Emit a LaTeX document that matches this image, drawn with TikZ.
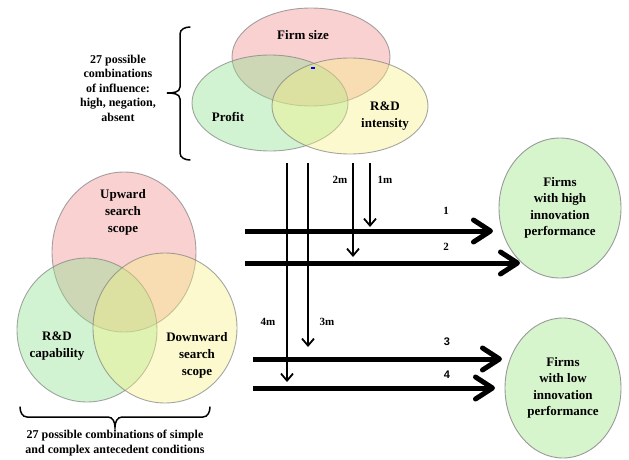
\documentclass[tikz,border=0pt]{standalone}
\usepackage{fontspec}
\setmainfont{Liberation Serif}
\newfontfamily\numfont{Liberation Sans}
\usepackage{tikz}
\usetikzlibrary{arrows.meta, positioning, shapes.geometric}

\definecolor{vpink}{RGB}{240,140,140}
\definecolor{vgreen}{RGB}{140,225,140}
\definecolor{vyellow}{RGB}{245,240,130}
\definecolor{goalgreen}{RGB}{215,245,205}

\begin{document}
\begin{tikzpicture}[
    x=1pt, y=-1pt,
    venn/.style={ellipse, draw=gray, line width=0.9pt, inner sep=0pt,
                 fill opacity=0.4, draw opacity=0.7},
    goal/.style={ellipse, draw=gray!80, line width=0.9pt, fill=goalgreen,
                 inner sep=0pt, align=center,
                 font=\bfseries\fontsize{13}{16.5}\selectfont},
    lbl/.style={font=\bfseries\fontsize{13}{17}\selectfont, align=center},
    note/.style={font=\bfseries\fontsize{12}{14.5}\selectfont, align=center},
    num/.style={font=\bfseries\fontsize{11}{13}\selectfont},
    flow/.style={-{Straight Barb[length=17pt,width=22pt,round]}, line width=5pt},
    mod/.style={-{Straight Barb[length=7pt,width=12pt]}, line width=1.8pt},
    brc/.style={line width=1.5pt, line cap=round}
]
\useasboundingbox (0,0) rectangle (629,460);

% upper Venn: firm-level influences
\node[venn, fill=vpink,   minimum width=158, minimum height=98] (size)   at (311,57)  {};
\node[venn, fill=vgreen,  minimum width=156, minimum height=96] (profit) at (270,103) {};
\node[venn, fill=vyellow, minimum width=156, minimum height=96] (rdint)  at (350,106) {};
\node[lbl] (sizetxt)   at (303,35)  {Firm size};
\node[lbl] (profittxt) at (228,117) {Profit};
\node[lbl] (rdinttxt)  at (385,116) {R\&D\\intensity};
\fill[blue] (311,67) rectangle (315,69);

% lower Venn: antecedent conditions
\node[venn, fill=vpink,   minimum width=144, minimum height=160] (up)   at (124,252) {};
\node[venn, fill=vgreen,  minimum width=140, minimum height=144] (rdcap) at (87,330) {};
\node[venn, fill=vyellow, minimum width=144, minimum height=150] (down) at (165,328) {};
\node[lbl] (uptxt)    at (123,212) {Upward\\search\\scope};
\node[lbl] (rdcaptxt) at (57,346)  {R\&D\\capability};
\node[lbl] (downtxt)  at (197,355) {Downward\\search\\scope};

% braces
\coordinate (tbtop) at (190,27);
\coordinate (tbbot) at (190,160);
\coordinate (tbtip) at (167,93);
\draw[brc] (tbtop) to[out=180,in=90] (180,34) -- (180,87)
  to[out=-90,in=0] (tbtip) to[out=0,in=90] (180,99) -- (180,153)
  to[out=-90,in=180] (tbbot);
\node[note] (tbtxt) at (118,88)
  {27 possible\\combinations\\of influence:\\high, negation,\\absent};
\coordinate (bbl) at (20,407);
\coordinate (bbr) at (210,407);
\coordinate (bbtip) at (115,427);
\draw[brc] (bbl) to[out=-90,in=180] (27,417) -- (108,417)
  to[out=0,in=90] (bbtip) to[out=90,in=180] (122,417) -- (203,417)
  to[out=0,in=-90] (bbr);
\node[note] (bbtxt) at (115,443)
  {27 possible combinations of simple\\and complex antecedent conditions};

% outcomes
\node[goal, minimum width=122, minimum height=140] (high) at (560,208)
  {Firms\\with high\\innovation\\performance};
\node[goal, minimum width=116, minimum height=140] (low) at (563,388)
  {Firms\\with low\\innovation\\performance};

% moderating arrows
\coordinate (m1s) at (370,163); \coordinate (m1e) at (370,227);
\coordinate (m2s) at (353,163); \coordinate (m2e) at (353,257);
\coordinate (m3s) at (308,163); \coordinate (m3e) at (308,347);
\coordinate (m4s) at (287,163); \coordinate (m4e) at (287,382);
\draw[mod] (m1s) -- (m1e);
\draw[mod] (m2s) -- (m2e);
\draw[mod] (m3s) -- (m3e);
\draw[mod] (m4s) -- (m4e);
\node[num] (m1txt) at (385,180) {1m};
\node[num] (m2txt) at (340,180) {2m};
\node[num] (m3txt) at (327,322) {3m};
\node[num] (m4txt) at (268,322) {4m};

% configuration paths
\coordinate (h1s) at (245,231); \coordinate (h1e) at (493,231);
\coordinate (h2s) at (245,263); \coordinate (h2e) at (520,263);
\coordinate (h3s) at (253,359); \coordinate (h3e) at (502,359);
\coordinate (h4s) at (253,388); \coordinate (h4e) at (495,388);
\draw[flow] (h1s) -- (h1e);
\draw[flow] (h2s) -- (h2e);
\draw[flow] (h3s) -- (h3e);
\draw[flow] (h4s) -- (h4e);
\node[num] (h1txt) at (446,211) {1};
\node[num] (h2txt) at (446,247) {2};
\node[num, font=\numfont\bfseries\fontsize{11}{13}\selectfont] (h3txt) at (447,342) {3};
\node[num, font=\numfont\bfseries\fontsize{11}{13}\selectfont] (h4txt) at (447,375) {4};
\end{tikzpicture}
\end{document}
